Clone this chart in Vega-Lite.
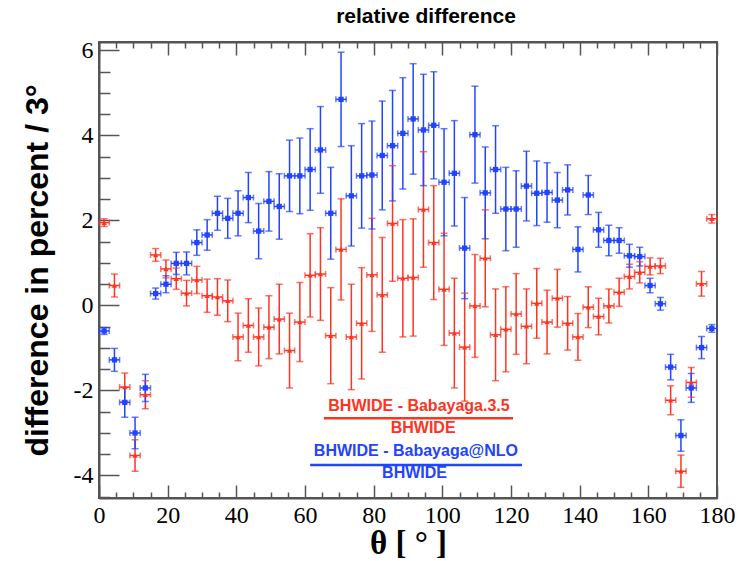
{
  "$schema": "https://vega.github.io/schema/vega-lite/v6.json",
  "width": 618,
  "height": 456,
  "autosize": {"type": "none"},
  "padding": {"left": 99, "top": 42, "right": 26, "bottom": 63},
  "background": "white",
  "title": {"text": "relative difference", "font": "Liberation Sans", "fontSize": 21, "fontWeight": "bold", "dx": 18, "offset": -6, "baseline": "alphabetic", "color": "black"},
  "resolve": {"axis": {"x": "independent", "y": "independent"}},
  "config": {
    "view": {"stroke": "#555", "strokeWidth": 2},
    "axis": {"domainColor": "#555", "domainWidth": 2, "tickColor": "#555", "tickWidth": 1.5, "grid": false, "labelColor": "black", "titleColor": "black", "labelOverlap": false}
  },
  "datasets": {
    "pts": [
      {"t": 1.5, "s": "Babayaga.3.5", "v": 1.95, "e": 0.09},
      {"t": 4.5, "s": "Babayaga.3.5", "v": 0.47, "e": 0.27},
      {"t": 7.5, "s": "Babayaga.3.5", "v": -1.92, "e": 0.33},
      {"t": 10.5, "s": "Babayaga.3.5", "v": -3.53, "e": 0.37},
      {"t": 13.5, "s": "Babayaga.3.5", "v": -2.10, "e": 0.33},
      {"t": 16.5, "s": "Babayaga.3.5", "v": 1.19, "e": 0.15},
      {"t": 19.5, "s": "Babayaga.3.5", "v": 0.86, "e": 0.21},
      {"t": 22.5, "s": "Babayaga.3.5", "v": 0.63, "e": 0.25},
      {"t": 25.5, "s": "Babayaga.3.5", "v": 0.29, "e": 0.30},
      {"t": 28.5, "s": "Babayaga.3.5", "v": 0.60, "e": 0.32},
      {"t": 31.5, "s": "Babayaga.3.5", "v": 0.23, "e": 0.39},
      {"t": 34.5, "s": "Babayaga.3.5", "v": 0.20, "e": 0.43},
      {"t": 37.5, "s": "Babayaga.3.5", "v": 0.11, "e": 0.49},
      {"t": 40.5, "s": "Babayaga.3.5", "v": -0.74, "e": 0.56},
      {"t": 43.5, "s": "Babayaga.3.5", "v": -0.47, "e": 0.63},
      {"t": 46.5, "s": "Babayaga.3.5", "v": -0.74, "e": 0.68},
      {"t": 49.5, "s": "Babayaga.3.5", "v": -0.51, "e": 0.74},
      {"t": 52.5, "s": "Babayaga.3.5", "v": -0.32, "e": 0.82},
      {"t": 55.5, "s": "Babayaga.3.5", "v": -1.06, "e": 0.88},
      {"t": 58.5, "s": "Babayaga.3.5", "v": -0.39, "e": 0.93},
      {"t": 61.5, "s": "Babayaga.3.5", "v": 0.71, "e": 0.98},
      {"t": 64.5, "s": "Babayaga.3.5", "v": 0.74, "e": 1.09},
      {"t": 67.5, "s": "Babayaga.3.5", "v": -0.71, "e": 1.13},
      {"t": 70.5, "s": "Babayaga.3.5", "v": 1.32, "e": 1.19},
      {"t": 73.5, "s": "Babayaga.3.5", "v": -0.74, "e": 1.24},
      {"t": 76.5, "s": "Babayaga.3.5", "v": -0.42, "e": 1.31},
      {"t": 79.5, "s": "Babayaga.3.5", "v": 0.72, "e": 1.33},
      {"t": 82.5, "s": "Babayaga.3.5", "v": 0.25, "e": 1.35},
      {"t": 85.5, "s": "Babayaga.3.5", "v": 1.93, "e": 1.36},
      {"t": 88.5, "s": "Babayaga.3.5", "v": 0.64, "e": 1.38},
      {"t": 91.5, "s": "Babayaga.3.5", "v": 0.66, "e": 1.38},
      {"t": 94.5, "s": "Babayaga.3.5", "v": 2.26, "e": 1.36},
      {"t": 97.5, "s": "Babayaga.3.5", "v": 1.48, "e": 1.34},
      {"t": 100.5, "s": "Babayaga.3.5", "v": 0.38, "e": 1.32},
      {"t": 103.5, "s": "Babayaga.3.5", "v": -0.65, "e": 1.29},
      {"t": 106.5, "s": "Babayaga.3.5", "v": -0.98, "e": 1.27},
      {"t": 109.5, "s": "Babayaga.3.5", "v": -0.01, "e": 1.21},
      {"t": 112.5, "s": "Babayaga.3.5", "v": 1.11, "e": 1.14},
      {"t": 115.5, "s": "Babayaga.3.5", "v": -0.69, "e": 1.08},
      {"t": 118.5, "s": "Babayaga.3.5", "v": -0.56, "e": 1.00},
      {"t": 121.5, "s": "Babayaga.3.5", "v": -0.20, "e": 0.95},
      {"t": 124.5, "s": "Babayaga.3.5", "v": -0.49, "e": 0.88},
      {"t": 127.5, "s": "Babayaga.3.5", "v": 0.05, "e": 0.82},
      {"t": 130.5, "s": "Babayaga.3.5", "v": -0.39, "e": 0.75},
      {"t": 133.5, "s": "Babayaga.3.5", "v": 0.17, "e": 0.68},
      {"t": 136.5, "s": "Babayaga.3.5", "v": -0.42, "e": 0.63},
      {"t": 139.5, "s": "Babayaga.3.5", "v": -0.74, "e": 0.55},
      {"t": 142.5, "s": "Babayaga.3.5", "v": -0.04, "e": 0.48},
      {"t": 145.5, "s": "Babayaga.3.5", "v": -0.26, "e": 0.43},
      {"t": 148.5, "s": "Babayaga.3.5", "v": -0.01, "e": 0.40},
      {"t": 151.5, "s": "Babayaga.3.5", "v": 0.31, "e": 0.33},
      {"t": 154.5, "s": "Babayaga.3.5", "v": 0.68, "e": 0.29},
      {"t": 157.5, "s": "Babayaga.3.5", "v": 0.78, "e": 0.25},
      {"t": 160.5, "s": "Babayaga.3.5", "v": 0.92, "e": 0.20},
      {"t": 163.5, "s": "Babayaga.3.5", "v": 0.93, "e": 0.18},
      {"t": 166.5, "s": "Babayaga.3.5", "v": -2.23, "e": 0.34},
      {"t": 169.5, "s": "Babayaga.3.5", "v": -3.90, "e": 0.38},
      {"t": 172.5, "s": "Babayaga.3.5", "v": -1.81, "e": 0.35},
      {"t": 175.5, "s": "Babayaga.3.5", "v": 0.51, "e": 0.29},
      {"t": 178.5, "s": "Babayaga.3.5", "v": 2.04, "e": 0.10},
      {"t": 1.5, "s": "Babayaga@NLO", "v": -0.60, "e": 0.08},
      {"t": 4.5, "s": "Babayaga@NLO", "v": -1.28, "e": 0.27},
      {"t": 7.5, "s": "Babayaga@NLO", "v": -2.28, "e": 0.35},
      {"t": 10.5, "s": "Babayaga@NLO", "v": -3.00, "e": 0.37},
      {"t": 13.5, "s": "Babayaga@NLO", "v": -1.94, "e": 0.32},
      {"t": 16.5, "s": "Babayaga@NLO", "v": 0.28, "e": 0.13},
      {"t": 19.5, "s": "Babayaga@NLO", "v": 0.50, "e": 0.20},
      {"t": 22.5, "s": "Babayaga@NLO", "v": 0.99, "e": 0.26},
      {"t": 25.5, "s": "Babayaga@NLO", "v": 0.99, "e": 0.27},
      {"t": 28.5, "s": "Babayaga@NLO", "v": 1.48, "e": 0.30},
      {"t": 31.5, "s": "Babayaga@NLO", "v": 1.66, "e": 0.36},
      {"t": 34.5, "s": "Babayaga@NLO", "v": 2.17, "e": 0.40},
      {"t": 37.5, "s": "Babayaga@NLO", "v": 2.05, "e": 0.47},
      {"t": 40.5, "s": "Babayaga@NLO", "v": 2.17, "e": 0.53},
      {"t": 43.5, "s": "Babayaga@NLO", "v": 2.54, "e": 0.59},
      {"t": 46.5, "s": "Babayaga@NLO", "v": 1.75, "e": 0.65},
      {"t": 49.5, "s": "Babayaga@NLO", "v": 2.45, "e": 0.70},
      {"t": 52.5, "s": "Babayaga@NLO", "v": 2.33, "e": 0.77},
      {"t": 55.5, "s": "Babayaga@NLO", "v": 3.05, "e": 0.84},
      {"t": 58.5, "s": "Babayaga@NLO", "v": 3.05, "e": 0.89},
      {"t": 61.5, "s": "Babayaga@NLO", "v": 3.20, "e": 0.96},
      {"t": 64.5, "s": "Babayaga@NLO", "v": 3.66, "e": 1.02},
      {"t": 67.5, "s": "Babayaga@NLO", "v": 2.17, "e": 1.08},
      {"t": 70.5, "s": "Babayaga@NLO", "v": 4.85, "e": 1.11},
      {"t": 73.5, "s": "Babayaga@NLO", "v": 2.58, "e": 1.18},
      {"t": 76.5, "s": "Babayaga@NLO", "v": 3.05, "e": 1.23},
      {"t": 79.5, "s": "Babayaga@NLO", "v": 3.07, "e": 1.27},
      {"t": 82.5, "s": "Babayaga@NLO", "v": 3.53, "e": 1.28},
      {"t": 85.5, "s": "Babayaga@NLO", "v": 3.76, "e": 1.30},
      {"t": 88.5, "s": "Babayaga@NLO", "v": 4.05, "e": 1.31},
      {"t": 91.5, "s": "Babayaga@NLO", "v": 4.39, "e": 1.30},
      {"t": 94.5, "s": "Babayaga@NLO", "v": 4.13, "e": 1.31},
      {"t": 97.5, "s": "Babayaga@NLO", "v": 4.24, "e": 1.26},
      {"t": 100.5, "s": "Babayaga@NLO", "v": 2.90, "e": 1.26},
      {"t": 103.5, "s": "Babayaga@NLO", "v": 3.11, "e": 1.24},
      {"t": 106.5, "s": "Babayaga@NLO", "v": 1.35, "e": 1.19},
      {"t": 109.5, "s": "Babayaga@NLO", "v": 4.02, "e": 1.14},
      {"t": 112.5, "s": "Babayaga@NLO", "v": 2.65, "e": 1.08},
      {"t": 115.5, "s": "Babayaga@NLO", "v": 3.20, "e": 1.03},
      {"t": 118.5, "s": "Babayaga@NLO", "v": 2.27, "e": 0.98},
      {"t": 121.5, "s": "Babayaga@NLO", "v": 2.27, "e": 0.90},
      {"t": 124.5, "s": "Babayaga@NLO", "v": 2.81, "e": 0.82},
      {"t": 127.5, "s": "Babayaga@NLO", "v": 2.64, "e": 0.76},
      {"t": 130.5, "s": "Babayaga@NLO", "v": 2.66, "e": 0.70},
      {"t": 133.5, "s": "Babayaga@NLO", "v": 2.48, "e": 0.65},
      {"t": 136.5, "s": "Babayaga@NLO", "v": 2.72, "e": 0.59},
      {"t": 139.5, "s": "Babayaga@NLO", "v": 1.32, "e": 0.53},
      {"t": 142.5, "s": "Babayaga@NLO", "v": 2.60, "e": 0.46},
      {"t": 145.5, "s": "Babayaga@NLO", "v": 1.78, "e": 0.41},
      {"t": 148.5, "s": "Babayaga@NLO", "v": 1.53, "e": 0.36},
      {"t": 151.5, "s": "Babayaga@NLO", "v": 1.53, "e": 0.30},
      {"t": 154.5, "s": "Babayaga@NLO", "v": 1.17, "e": 0.27},
      {"t": 157.5, "s": "Babayaga@NLO", "v": 1.15, "e": 0.22},
      {"t": 160.5, "s": "Babayaga@NLO", "v": 0.47, "e": 0.17},
      {"t": 163.5, "s": "Babayaga@NLO", "v": 0.04, "e": 0.15},
      {"t": 166.5, "s": "Babayaga@NLO", "v": -1.45, "e": 0.30},
      {"t": 169.5, "s": "Babayaga@NLO", "v": -3.06, "e": 0.37},
      {"t": 172.5, "s": "Babayaga@NLO", "v": -1.94, "e": 0.34},
      {"t": 175.5, "s": "Babayaga@NLO", "v": -0.99, "e": 0.26},
      {"t": 178.5, "s": "Babayaga@NLO", "v": -0.54, "e": 0.09}
    ],
    "notes": [
      {"s": "Babayaga.3.5", "label": "BHWIDE - Babayaga.3.5", "t": 93.2, "v": -2.475},
      {"s": "Babayaga.3.5", "label": "BHWIDE", "t": 94.4, "v": -2.993},
      {"s": "Babayaga@NLO", "label": "BHWIDE - Babayaga@NLO", "t": 92.3, "v": -3.541},
      {"s": "Babayaga@NLO", "label": "BHWIDE", "t": 91.9, "v": -4.066}
    ],
    "lines": [
      {"s": "Babayaga.3.5", "t1": 65.5, "t2": 120.6, "v": -2.654},
      {"s": "Babayaga@NLO", "t1": 61.5, "t2": 123.2, "v": -3.753}
    ]
  },
  "layer": [
    {
      "data": {"name": "pts"},
      "transform": [
        {"calculate": "datum.v - datum.e", "as": "lo"},
        {"calculate": "datum.v + datum.e", "as": "hi"}
      ],
      "mark": {"type": "rule", "strokeWidth": 1.5},
      "encoding": {
        "x": {"field": "t", "type": "quantitative", "scale": {"domain": [0, 180], "nice": false, "zero": false},
          "axis": {"orient": "top", "values": [0,20,40,60,80,100,120,140,160,180], "tickSize": -13, "labels": false, "title": null}},
        "y": {"field": "lo", "type": "quantitative", "scale": {"domain": [-4.53, 6.2], "nice": false, "zero": false},
          "axis": {"orient": "left", "values": [-4.5,-3.5,-3,-2.5,-1.5,-1,-0.5,0.5,1,1.5,2.5,3,3.5,4.5,5,5.5], "tickSize": -11, "labels": false, "domain": false, "title": null}},
        "y2": {"field": "hi"},
        "color": {"field": "s", "type": "nominal", "scale": {"domain": ["Babayaga.3.5", "Babayaga@NLO"], "range": ["#ff3322", "#2244ff"]}, "legend": null}
      }
    },
    {
      "data": {"name": "pts"},
      "transform": [{"calculate": "datum.v - datum.e", "as": "lo"}],
      "mark": {"type": "tick", "orient": "horizontal", "size": 7, "thickness": 1.5},
      "encoding": {
        "x": {"field": "t", "type": "quantitative",
          "axis": {"orient": "top", "values": [5,10,15,25,30,35,45,50,55,65,70,75,85,90,95,105,110,115,125,130,135,145,150,155,165,170,175], "tickSize": -6, "labels": false, "domain": false, "title": null}},
        "y": {"field": "lo", "type": "quantitative", "axis": null},
        "color": {"field": "s", "type": "nominal", "legend": null}
      }
    },
    {
      "data": {"name": "pts"},
      "transform": [{"calculate": "datum.v + datum.e", "as": "hi"}],
      "mark": {"type": "tick", "orient": "horizontal", "size": 7, "thickness": 1.5},
      "encoding": {
        "x": {"field": "t", "type": "quantitative", "axis": null},
        "y": {"field": "hi", "type": "quantitative", "axis": null},
        "color": {"field": "s", "type": "nominal", "legend": null}
      }
    },
    {
      "data": {"name": "pts"},
      "transform": [
        {"calculate": "datum.t - 1.5", "as": "tlo"},
        {"calculate": "datum.t + 1.5", "as": "thi"}
      ],
      "mark": {"type": "rule", "strokeWidth": 1.5},
      "encoding": {
        "x": {"field": "tlo", "type": "quantitative",
          "axis": {"orient": "bottom", "values": [5,10,15,25,30,35,45,50,55,65,70,75,85,90,95,105,110,115,125,130,135,145,150,155,165,170,175], "tickSize": -6, "labels": false, "domain": false, "title": null}},
        "x2": {"field": "thi"},
        "y": {"field": "v", "type": "quantitative", "axis": null},
        "color": {"field": "s", "type": "nominal", "legend": null}
      }
    },
    {
      "data": {"name": "pts"},
      "transform": [{"calculate": "datum.t - 1.5", "as": "tlo"}],
      "mark": {"type": "tick", "orient": "vertical", "size": 6, "thickness": 1.5},
      "encoding": {
        "x": {"field": "tlo", "type": "quantitative", "axis": null},
        "y": {"field": "v", "type": "quantitative", "axis": null},
        "color": {"field": "s", "type": "nominal", "legend": null}
      }
    },
    {
      "data": {"name": "pts"},
      "transform": [{"calculate": "datum.t + 1.5", "as": "thi"}],
      "mark": {"type": "tick", "orient": "vertical", "size": 6, "thickness": 1.5},
      "encoding": {
        "x": {"field": "thi", "type": "quantitative", "axis": null},
        "y": {"field": "v", "type": "quantitative", "axis": null},
        "color": {"field": "s", "type": "nominal", "legend": null}
      }
    },
    {
      "data": {"name": "pts"},
      "mark": {"type": "point", "filled": true, "opacity": 1, "size": 28},
      "encoding": {
        "x": {"field": "t", "type": "quantitative",
          "axis": {"orient": "bottom", "values": [0,20,40,60,80,100,120,140,160,180], "tickSize": -13,
            "labelExpr": "'' + datum.value",
            "labelFont": "Liberation Serif", "labelFontSize": 24, "labelPadding": 18, "labelFlush": false,
            "title": "θ [ ° ]", "titleFont": "Liberation Serif", "titleFontSize": 33, "titleFontWeight": "bold",
            "titleY": 55, "titleBaseline": "alphabetic"}},
        "y": {"field": "v", "type": "quantitative",
          "axis": {"orient": "left", "values": [-4,-2,0,2,4,6], "tickSize": -20,
            "labelExpr": "'' + datum.value",
            "labelFont": "Liberation Serif", "labelFontSize": 24, "labelPadding": 26,
            "title": "difference in percent / 3°", "titleFont": "Liberation Sans", "titleFontSize": 32, "titleFontWeight": "bold",
            "titleX": -52, "titleBaseline": "alphabetic"}},
        "color": {"field": "s", "type": "nominal", "legend": null},
        "shape": {"field": "s", "type": "nominal", "scale": {"domain": ["Babayaga.3.5", "Babayaga@NLO"], "range": ["triangle-up", "square"]}, "legend": null}
      }
    },
    {
      "data": {"name": "lines"},
      "mark": {"type": "rule", "strokeWidth": 2.5},
      "encoding": {
        "x": {"field": "t1", "type": "quantitative", "axis": null},
        "x2": {"field": "t2"},
        "y": {"field": "v", "type": "quantitative", "axis": null},
        "color": {"field": "s", "type": "nominal", "legend": null}
      }
    },
    {
      "data": {"name": "notes"},
      "mark": {"type": "text", "font": "Liberation Sans", "fontSize": 16, "fontWeight": "bold", "align": "center", "baseline": "alphabetic"},
      "encoding": {
        "x": {"field": "t", "type": "quantitative", "axis": null},
        "y": {"field": "v", "type": "quantitative", "axis": null},
        "text": {"field": "label"},
        "color": {"field": "s", "type": "nominal", "legend": null}
      }
    }
  ]
}
